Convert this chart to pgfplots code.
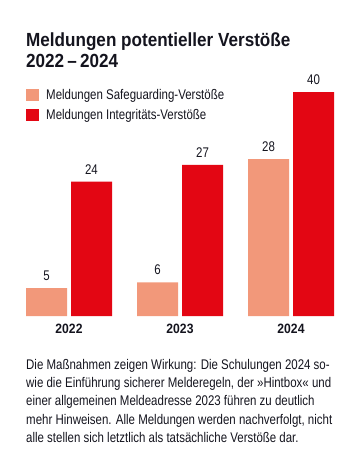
\documentclass[border=0pt]{standalone}
\usepackage{pgfplots}
\pgfplotsset{compat=1.18}
\usepackage{fontspec}
\setmainfont{Liberation Sans}[FakeStretch=0.82,BoldFeatures={FakeStretch=0.9}]
\definecolor{salmon}{RGB}{242,152,122}
\definecolor{sred}{RGB}{227,6,19}
\definecolor{txt}{RGB}{20,20,30}
\pgfplotsset{sq legend/.style={legend image code/.code={\fill[##1,draw=none] (0pt,-6pt) rectangle (13pt,6pt);}}}
\begin{document}
\begin{tikzpicture}
\begin{axis}[
  scale only axis, x=111pt, y=5.6pt,
  xmin=-0.6, xmax=2.6, ymin=0, ymax=45,
  ybar=4pt, bar width=41pt,
  axis x line*=bottom, x axis line style={draw=none},
  hide y axis,
  major tick length=0pt,
  /pgf/number format/assume math mode=true,
  xtick={0,1,2}, xticklabels={2022,2023,2024},
  xticklabel style={font=\fontsize{13.5}{13.5}\selectfont\bfseries, text=txt, anchor=base, yshift=-17pt},
  nodes near coords,
  every node near coord/.append style={font=\fontsize{14}{14}\selectfont, text=txt, anchor=base, yshift=7.5pt},
  legend style={at={(0.0664,0.91)}, anchor=north west, draw=none, fill=none, inner sep=0pt,
    font=\fontsize{14}{14}\selectfont, text=txt, row sep=5pt,
    /tikz/every odd column/.append style={column sep=5pt}},
  legend cell align=left,
  clip=false,
]
\addplot[fill=salmon, draw=none, sq legend] coordinates {(0,5) (1,6) (2,28)};
\addplot[fill=sred, draw=none, sq legend] coordinates {(0,24) (1,27) (2,40)};
\legend{Meldungen Safeguarding-Verstöße, Meldungen Integritäts-Verstöße}
% canvas frame (invisible), 363 x 463 px
\path[draw=none] (axis cs:-0.62162,56.4286) rectangle (axis cs:2.64865,-26.25);
\node[anchor=base west, inner sep=0, text=txt, font=\fontsize{19}{21}\selectfont\bfseries] at (axis cs:-0.38739,48.089) {Meldungen potentieller Verstöße};
\node[anchor=base west, inner sep=0, text=txt, font=\fontsize{19}{21}\selectfont\bfseries] at (axis cs:-0.38739,44.286) {2022\,–\,2024};
\node[anchor=base west, inner sep=0, text=txt, font=\fontsize{14}{14}\selectfont] at (axis cs:-0.38739,-9.518) {Die Maßnahmen zeigen Wirkung: Die Schulungen 2024 so-};
\node[anchor=base west, inner sep=0, text=txt, font=\fontsize{14}{14}\selectfont] at (axis cs:-0.38739,-12.786) {wie die Einführung sicherer Melderegeln, der »Hintbox« und};
\node[anchor=base west, inner sep=0, text=txt, font=\fontsize{14}{14}\selectfont] at (axis cs:-0.38739,-16.054) {einer allgemeinen Meldeadresse 2023 führen zu deutlich};
\node[anchor=base west, inner sep=0, text=txt, font=\fontsize{14}{14}\selectfont] at (axis cs:-0.38739,-19.322) {mehr Hinweisen. Alle Meldungen werden nachverfolgt, nicht};
\node[anchor=base west, inner sep=0, text=txt, font=\fontsize{14}{14}\selectfont] at (axis cs:-0.38739,-22.589) {alle stellen sich letztlich als tatsächliche Verstöße dar.};
\end{axis}
\end{tikzpicture}
\end{document}
